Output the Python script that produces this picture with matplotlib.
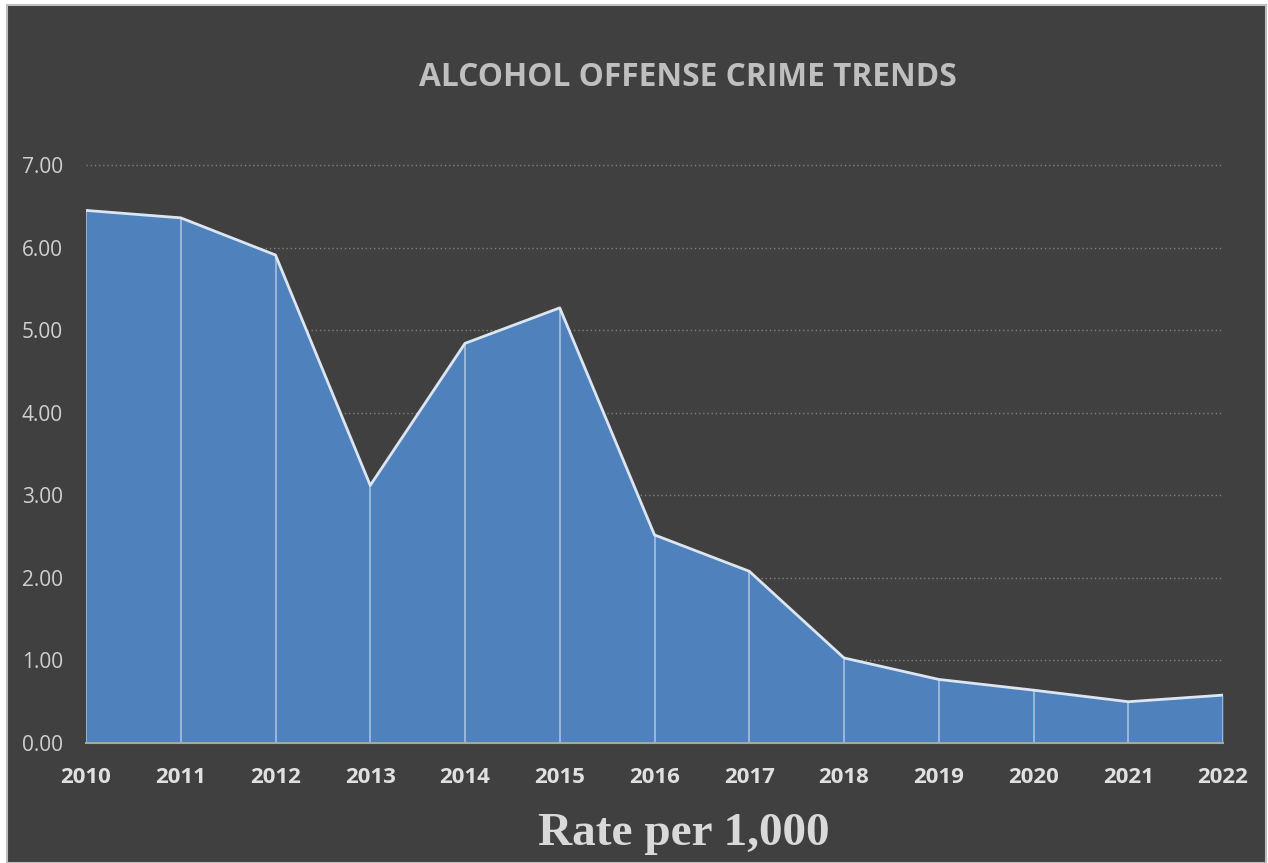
import matplotlib.pyplot as plt
from matplotlib.patches import Rectangle

years = [2010, 2011, 2012, 2013, 2014, 2015, 2016, 2017, 2018, 2019, 2020, 2021, 2022]
rates = [6.45, 6.36, 5.91, 3.12, 4.84, 5.27, 2.52, 2.08, 1.03, 0.77, 0.64, 0.50, 0.58]
yticks = [0, 1, 2, 3, 4, 5, 6, 7]

bg = '#404040'
fig = plt.figure(figsize=(12.68, 8.63), dpi=100, facecolor='white')
fig.patches.append(Rectangle((7 / 1268, 0), 1259 / 1268, 858 / 863, transform=fig.transFigure,
                             facecolor=bg, edgecolor='#bfbfbf', linewidth=1.5, zorder=-1))

ax = fig.add_axes([86 / 1268, 120 / 863, 1137 / 1268, 578 / 863 * 7.6 / 7])
ax.set_facecolor(bg)
ax.patch.set_alpha(0)

# area with drop lines
ax.fill_between(years, rates, 0, color='#4f81bd', linewidth=0, zorder=2)
ax.plot(years, rates, color='#dce6f2', linewidth=2, zorder=4)
ax.vlines(years, 0, rates, color='#a9c0dd', linewidth=1.2, zorder=3)

ax.set_xlim(2010, 2022)
ax.set_ylim(0, 7.6)
ax.set_yticks(yticks)
ax.set_yticklabels([f'{v:.2f}' for v in yticks])
ax.set_xticks(years)
ax.set_xticklabels([str(y) for y in years])

for v in yticks[1:]:
    ax.axhline(v, color='#808080', linestyle=(0, (1, 2)), linewidth=1, zorder=1)

for s in ['top', 'right', 'left']:
    ax.spines[s].set_visible(False)
ax.spines['bottom'].set_color('#a6a6a6')
ax.spines['bottom'].set_linewidth(1.5)
ax.spines['bottom'].set_zorder(5)

ax.tick_params(axis='y', length=0, pad=16.5, labelsize=15, labelcolor='#d0d0d0')
ax.tick_params(axis='x', length=0, pad=17, labelsize=16, labelcolor='#e0e0e0')
for lbl in ax.get_yticklabels():
    lbl.set_fontfamily('Open Sans')
for lbl in ax.get_xticklabels():
    lbl.set_fontfamily('Open Sans')
    lbl.set_fontweight('bold')

fig.text(688 / 1268, 1 - 78 / 863, 'ALCOHOL OFFENSE CRIME TRENDS', ha='center', va='center',
         fontsize=22.8, fontweight='bold', color='#bfbfbf', family='Open Sans')
fig.text(684 / 1268, 1 - 845 / 863, 'Rate per 1,000', ha='center', va='baseline',
         fontsize=34, fontweight='bold', color='#d9d9d9', family='Liberation Serif')

fig.savefig('out.png', dpi=100, facecolor='white')
